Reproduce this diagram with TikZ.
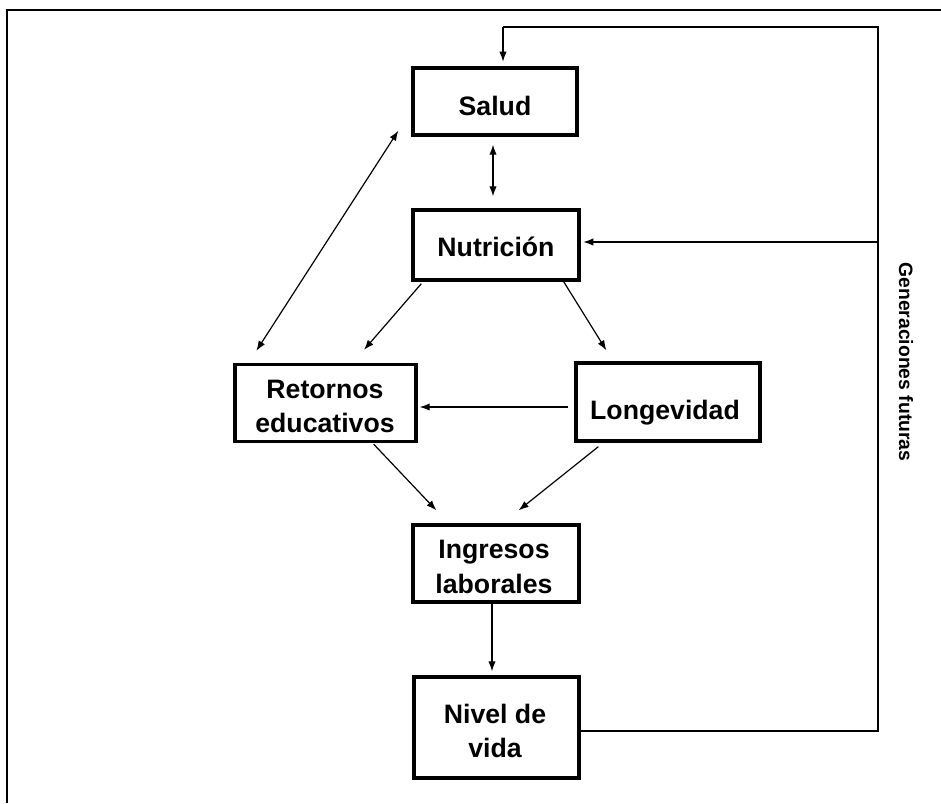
\documentclass[tikz,border=0pt]{standalone}
\usepackage{fontspec}
\setmainfont{Liberation Sans}
\usetikzlibrary{arrows.meta}
\begin{document}
\begin{tikzpicture}[x=0.75pt,y=-0.75pt,
  box/.style={draw, line width=2.5pt, inner sep=0pt},
  lbl/.style={align=center, inner sep=0pt, font=\bfseries\fontsize{20}{26}\selectfont},
  conn/.style={line width=0.9pt, -{Latex[length=7.5pt,width=5.5pt]}},
  dbl/.style={line width=0.9pt, {Latex[length=7.5pt,width=5.5pt]}-{Latex[length=7.5pt,width=5.5pt]}},
  fbline/.style={line width=0.8pt},
  frameline/.style={line width=2.2pt}
]
\useasboundingbox (0,0) rectangle (941,803);
\fill[white] (0,0) rectangle (941,803);

% outer frame
\draw[frameline] (7,803) -- (7,10) -- (941,10);

% boxes
\node[box, minimum width=123pt,   minimum height=50.25pt] (sal) at (495,101.5) {};
\node[box, minimum width=124.5pt, minimum height=52.5pt]  (nut) at (496,245) {};
\node[box, minimum width=135.75pt,minimum height=57.75pt] (ret) at (325.5,403) {};
\node[box, minimum width=138pt,   minimum height=58.5pt]  (lon) at (668,402) {};
\node[box, minimum width=124.5pt, minimum height=57.75pt] (ing) at (496,563.5) {};
\node[box, minimum width=123.75pt,minimum height=75.75pt] (niv) at (496.5,727.5) {};

% labels
\node[lbl] (tsal) at (495,106) {Salud};
\node[lbl] (tnut) at (496,247) {Nutrición};
\node[lbl] (tret) at (325,406.5) {Retornos\\educativos};
\node[lbl] (tlon) at (665,413) {Longevidad};
\node[lbl] (ting) at (494,567) {Ingresos\\laborales};
\node[lbl] (tniv) at (495,731) {Nivel de\\vida};

\node[font=\bfseries\fontsize{14.5}{17}\selectfont, rotate=-90, inner sep=0pt] (gen) at (906,362) {Generaciones futuras};

% feedback loop
\coordinate (cBR) at (878,731);
\coordinate (cTR) at (878,27);
\coordinate (cTL) at (503,27);
\coordinate (cMR) at (878,242);
\draw[fbline] (niv.east |- cBR) -- (cBR) -- (cTR) -- (cTL);
\draw[conn, line width=0.8pt, shorten >=3.5pt] (cTL) -- (cTL |- sal.north);
\draw[conn, line width=0.8pt, shorten >=2pt] (cMR) -- (nut.east |- cMR);

% connectors
\draw[dbl] ([shift={(-2,8)}]sal.south) -- ([shift={(-3,-12)}]nut.north);
\draw[dbl] ([shift={(-13,-6)}]sal.south west) -- ([shift={(23,-12)}]ret.north west);
\draw[conn] ([shift={(10,2)}]nut.south west) -- ([shift={(38.5,-13)}]ret.north);
\draw[conn] ([shift={(-17,0)}]nut.south east) -- ([shift={(32,-11)}]lon.north west);
\draw[conn] ([shift={(-6,5)}]lon.west) -- ([shift={(2,4)}]ret.east);
\draw[conn] ([shift={(-44,1)}]ret.south east) -- ([shift={(25,-13)}]ing.north west);
\draw[conn] ([shift={(24,4)}]lon.south west) -- ([shift={(-62,-13)}]ing.north east);
\draw[conn] ([shift={(-4,0)}]ing.south) -- ([shift={(-4.5,-4)}]niv.north);
\end{tikzpicture}
\end{document}
